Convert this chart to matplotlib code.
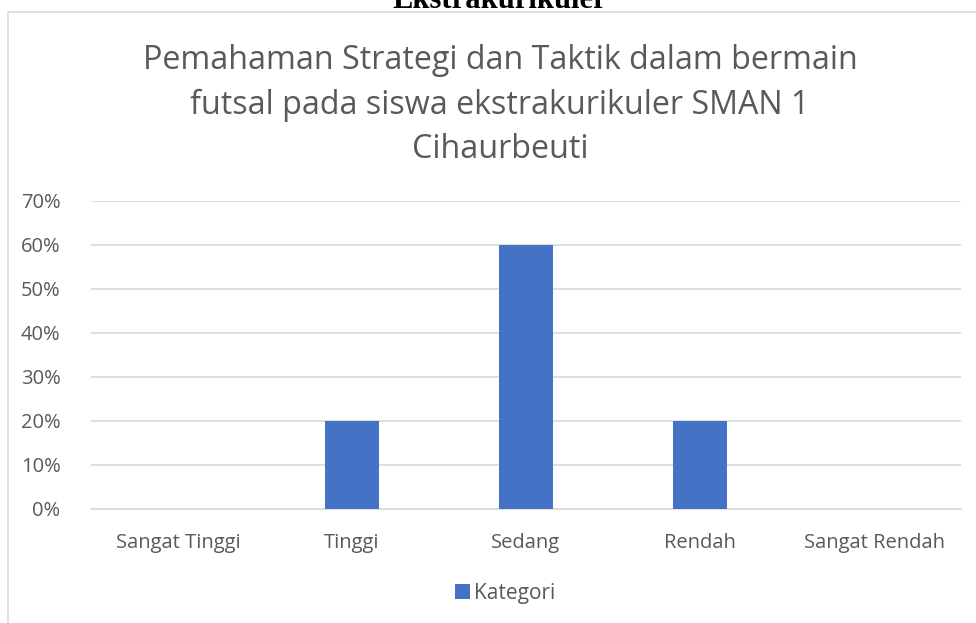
import matplotlib
matplotlib.use('Agg')
import matplotlib.pyplot as plt
from matplotlib.patches import Rectangle
from matplotlib.ticker import PercentFormatter

# data
kategori = ['Sangat Tinggi', 'Tinggi', 'Sedang', 'Rendah', 'Sangat Rendah']
nilai = [0.0, 0.20, 0.60, 0.20, 0.0]

W, H = 976, 623
plt.rcParams['font.family'] = ['Open Sans', 'DejaVu Sans']

fig = plt.figure(figsize=(W / 100, H / 100), dpi=100)

# chart border (cut by the picture edge on the right and bottom)
fig.patches.append(Rectangle((8 / W, -0.1), 1.1, (H - 12) / H + 0.1,
                             transform=fig.transFigure, fill=False,
                             edgecolor='#D9D9D9', linewidth=1.2))

# heading of the document, cut off at the top
fig.text(500 / W, (H - 8) / H, 'Ekstrakurikuler', ha='center', va='baseline',
         fontsize=22, fontweight='bold', family='Liberation Serif', color='black')

ax = fig.add_axes([91 / W, (H - 509) / H, 870 / W, 308 / H])
ax.bar(range(len(kategori)), nilai, width=0.315, color='#4472C4', label='Kategori', zorder=3)

ax.set_xlim(-0.5, len(kategori) - 0.5)
ax.set_ylim(0, 0.7)
ax.set_yticks([i / 10 for i in range(8)])
ax.yaxis.set_major_formatter(PercentFormatter(1.0, decimals=0))
ax.set_xticks(range(len(kategori)))
ax.set_xticklabels(kategori)
ax.grid(axis='y', color='#D9D9D9', linewidth=1.2, zorder=0)
for s in ['top', 'right', 'left']:
    ax.spines[s].set_visible(False)
ax.spines['bottom'].set_color('#D9D9D9')
ax.spines['bottom'].set_linewidth(1.2)
ax.tick_params(axis='both', length=0, labelsize=14.5, colors='#595959')
ax.tick_params(axis='x', pad=17)
ax.tick_params(axis='y', pad=22)

fig.text(500 / W, (H - 105) / H,
         'Pemahaman Strategi dan Taktik dalam bermain\n'
         'futsal pada siswa ekstrakurikuler SMAN 1\nCihaurbeuti',
         ha='center', va='center', fontsize=23.2, color='#595959', linespacing=1.45)

fig.legend(loc='center', bbox_to_anchor=(505 / W, (H - 593) / H), frameon=False,
           fontsize=15, labelcolor='#595959', handlelength=0.7, handleheight=0.7,
           handletextpad=0.2)

fig.savefig('out.png', dpi=100)
